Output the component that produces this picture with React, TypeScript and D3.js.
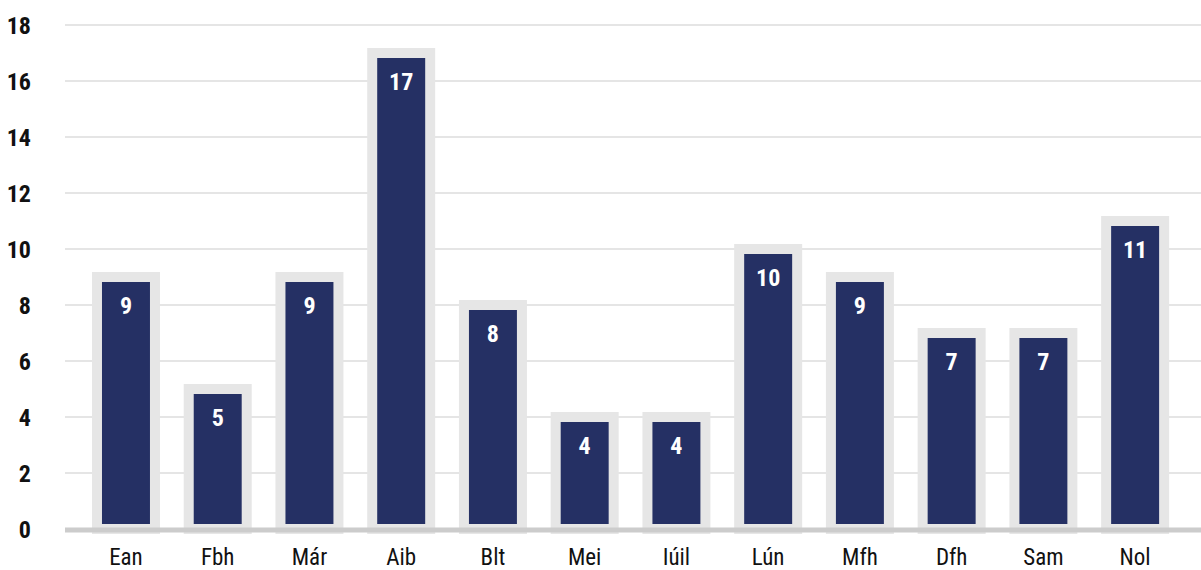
import React, { useEffect, useRef } from 'react';
import * as d3 from 'd3';

const months = ['Ean', 'Fbh', 'Már', 'Aib', 'Blt', 'Mei', 'Iúil', 'Lún', 'Mfh', 'Dfh', 'Sam', 'Nol'];
const counts = [9, 5, 9, 17, 8, 4, 4, 10, 9, 7, 7, 11];
const yTicks = [0, 2, 4, 6, 8, 10, 12, 14, 16, 18];

const FONT = '"Liberation Sans Narrow", "Roboto Condensed", "DejaVu Sans Condensed", sans-serif';

const App = () => {
  const svgRef = useRef(null);

  useEffect(() => {
    const width = 1201;
    const height = 570;
    const left = 65;

    const svg = d3.select(svgRef.current);
    svg.selectAll('*').remove();
    svg.attr('width', width).attr('height', height);

    const x = d3.scaleBand()
      .domain(months)
      .range([80.1, 1181])
      .paddingInner(0.368)
      .paddingOuter(0.184);

    const y = d3.scaleLinear().domain([0, 18]).range([529, 25]);

    // gridlines
    svg.append('g')
      .selectAll('line')
      .data(yTicks.filter(d => d > 0))
      .enter().append('line')
      .attr('x1', left)
      .attr('x2', width)
      .attr('y1', d => y(d))
      .attr('y2', d => y(d))
      .attr('stroke', '#dddddd')
      .attr('stroke-width', 1.5);

    // y labels
    svg.append('g')
      .selectAll('text')
      .data(yTicks)
      .enter().append('text')
      .attr('x', 31)
      .attr('y', d => y(d))
      .attr('dy', '0.36em')
      .attr('text-anchor', 'end')
      .attr('font-family', FONT)
      .attr('font-weight', 'bold')
      .attr('font-size', 24)
      .attr('fill', '#111')
      .text(d => d);

    // bars
    const bars = svg.append('g');
    bars.selectAll('rect')
      .data(counts)
      .enter().append('rect')
      .attr('x', (d, i) => x(months[i]))
      .attr('y', d => y(d))
      .attr('width', x.bandwidth())
      .attr('height', d => y(0) - y(d))
      .attr('fill', '#253064')
      .attr('stroke', '#e6e6e6')
      .attr('stroke-width', 10);

    bars.selectAll('text')
      .data(counts)
      .enter().append('text')
      .attr('x', (d, i) => x(months[i]) + x.bandwidth() / 2)
      .attr('y', d => y(d) + 37)
      .attr('text-anchor', 'middle')
      .attr('font-family', FONT)
      .attr('font-weight', 'bold')
      .attr('font-size', 24)
      .attr('fill', '#fff')
      .text(d => d);

    // baseline
    svg.append('line')
      .attr('x1', left)
      .attr('x2', width)
      .attr('y1', y(0) + 1)
      .attr('y2', y(0) + 1)
      .attr('stroke', '#cccccc')
      .attr('stroke-width', 5);

    // x labels
    svg.append('g')
      .selectAll('text')
      .data(months)
      .enter().append('text')
      .attr('x', d => x(d) + x.bandwidth() / 2)
      .attr('y', 565)
      .attr('text-anchor', 'middle')
      .attr('font-family', FONT)
      .attr('font-size', 23)
      .attr('fill', '#111')
      .text(d => d);
  }, []);

  return <svg ref={svgRef} style={{ position: 'absolute', left: 0, top: 0 }}></svg>;
};

export default App;
